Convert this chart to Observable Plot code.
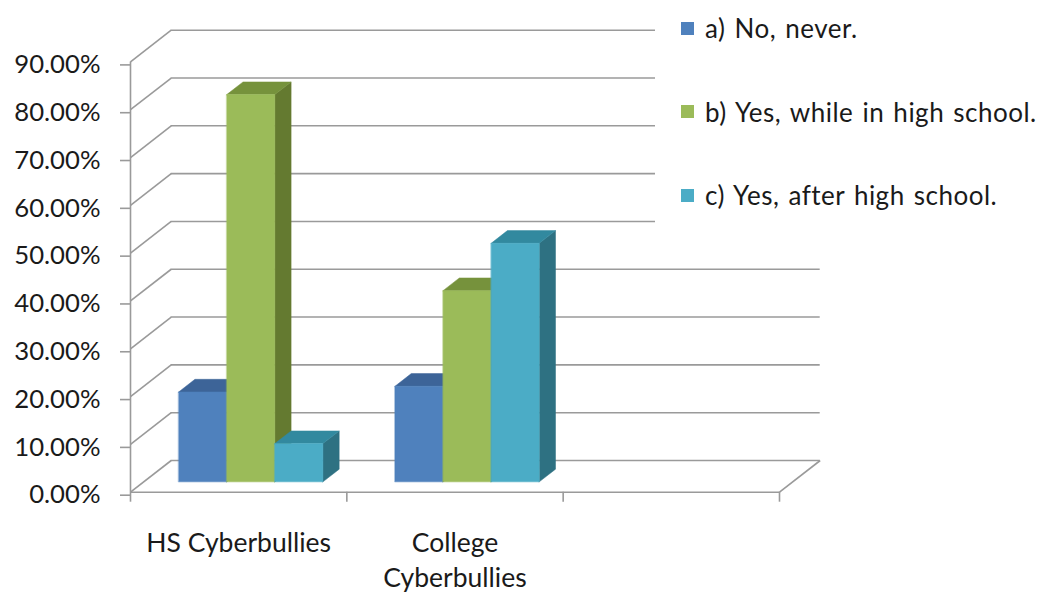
<!DOCTYPE html>
<html>
<head>
<meta charset="utf-8">
<script src="https://cdn.jsdelivr.net/npm/d3@7"></script>
<script src="https://cdn.jsdelivr.net/npm/@observablehq/plot@0.6"></script>
<style>
  html, body { margin: 0; padding: 0; background: #fff; }
  #wrap { position: relative; width: 1043px; height: 592px; font-family: Lato, "Open Sans", sans-serif; color: #1a1a1a; }
  #legend { position: absolute; left: 655px; top: 0px; width: 388px; height: 240px; background: #fff;
            box-sizing: border-box; padding-left: 26px; padding-top: 10px; font-size: 26px; letter-spacing: 0.5px; word-spacing: 2px; }
  #legend .item { display: flex; align-items: center; height: 36px; margin-bottom: 47.5px; white-space: nowrap; }
  #legend .sw { width: 13px; height: 13px; margin-right: 11px; flex: none; }
</style>
</head>
<body>
<div id="wrap"><div id="legend"></div></div>
<script>
// ---- data ----
const categories = ["HS Cyberbullies", "College Cyberbullies", ""];
const series = ["a) No, never.", "b) Yes, while in high school.", "c) Yes, after high school."];
const valuesA = [0.188, 0.200];
const valuesB = [0.810, 0.400];
const valuesC = [0.080, 0.499];
const yTicks = [0, 0.1, 0.2, 0.3, 0.4, 0.5, 0.6, 0.7, 0.8, 0.9];

// ---- style ----
const frontColors = ["#4F81BD", "#9BBB59", "#4BACC6"];
const topColors = ["#3D6498", "#76923C", "#32899F"];
const sideColors = ["#385D8A", "#647A30", "#2E7182"];
const gridColor = "#9a9a9a";

const W = 1043, H = 592;
const mL = 130, mR = 264, mT = 61.4, mB = 100.3;
const depthPx = [40.7, 31.7];
const nCat = categories.length;
const yMax = yTicks[yTicks.length - 1];
const dxB = depthPx[0] / ((W - mL - mR) / nCat);
const dyB = depthPx[1] / ((H - mT - mB) / yMax);
const gapWidth = 1.5;
const bw = 1 / (series.length + gapWidth);
const f1 = 0.31, f2 = 0.71;

const valuesBySeries = [valuesA, valuesB, valuesC];
const polys = [];
let id = 0;
for (let i = 0; i < valuesA.length; i++) {
  for (let j = 0; j < series.length; j++) {
    const v = valuesBySeries[j][i];
    const xl = i + gapWidth * bw / 2 + j * bw, xr = xl + bw;
    const ox1 = f1 * dxB, oy1 = f1 * dyB, ox2 = f2 * dxB, oy2 = f2 * dyB;
    // side face
    id++;
    polys.push({id, fill: sideColors[j], x1: xr + ox1, y1: oy1, x2: xr + ox1, y2: v + oy1});
    polys.push({id, fill: sideColors[j], x1: xr + ox2, y1: oy2, x2: xr + ox2, y2: v + oy2});
    // top face
    id++;
    polys.push({id, fill: topColors[j], x1: xl + ox1, y1: v + oy1, x2: xr + ox1, y2: v + oy1});
    polys.push({id, fill: topColors[j], x1: xl + ox2, y1: v + oy2, x2: xr + ox2, y2: v + oy2});
    // front face
    id++;
    polys.push({id, fill: frontColors[j], x1: xl + ox1, y1: oy1, x2: xl + ox1, y2: v + oy1});
    polys.push({id, fill: frontColors[j], x1: xr + ox1, y1: oy1, x2: xr + ox1, y2: v + oy1});
  }
}

const boundaries = d3.range(nCat + 1);

const chart = Plot.plot({
  width: W, height: H,
  marginLeft: mL, marginRight: mR, marginTop: mT, marginBottom: mB,
  style: {fontFamily: "Lato, 'Open Sans', sans-serif", fontSize: "26px", color: "#1a1a1a", background: "transparent"},
  x: {type: "linear", domain: [0, nCat], axis: null},
  y: {type: "linear", domain: [0, yMax], axis: null},
  color: {type: "identity"},
  marks: [
    // back wall gridlines
    Plot.ruleY(yTicks, {y: d => d + dyB, x1: dxB, x2: nCat + dxB, stroke: gridColor, strokeWidth: 1.6}),
    // side wall diagonals
    Plot.link(yTicks, {x1: 0, y1: d => d, x2: dxB, y2: d => d + dyB, stroke: gridColor, strokeWidth: 1.6}),
    // floor right edge
    Plot.link([0], {x1: nCat, y1: 0, x2: nCat + dxB, y2: dyB, stroke: gridColor, strokeWidth: 1.6}),
    // front axes
    Plot.ruleX([0], {y1: 0, y2: yMax, stroke: gridColor, strokeWidth: 1.6}),
    Plot.ruleY([0], {x1: 0, x2: nCat, stroke: gridColor, strokeWidth: 1.6}),
    Plot.axisY(yTicks, {tickSize: 10, tickPadding: 20, stroke: gridColor, strokeWidth: 1.6, fill: "#1a1a1a",
      tickFormat: d => (d * 100).toFixed(2) + "%", fontSize: 25.7, dy: 3}),
    Plot.axisX(boundaries, {tickSize: 10, tickFormat: () => "", stroke: gridColor, strokeWidth: 1.6}),
    // category labels
    Plot.text(categories, {x: (d, i) => i + 0.5, y: 0, dy: 35, text: d => d, lineWidth: 8, lineHeight: 1.33,
      lineAnchor: "top", textAnchor: "middle", fill: "#1a1a1a", fontSize: 26.5}),
    // 3D bars
    Plot.area(polys, {x1: "x1", y1: "y1", x2: "x2", y2: "y2", z: "id", fill: "fill", stroke: "fill", strokeWidth: 0.5})
  ]
});
const wrap = document.getElementById("wrap");
wrap.insertBefore(chart, wrap.firstChild);

const legend = document.getElementById("legend");
series.forEach((s, j) => {
  const item = document.createElement("div");
  item.className = "item";
  const sw = document.createElement("span");
  sw.className = "sw";
  sw.style.background = frontColors[j];
  const label = document.createElement("span");
  label.textContent = s;
  item.appendChild(sw);
  item.appendChild(label);
  legend.appendChild(item);
});
</script>
</body>
</html>
